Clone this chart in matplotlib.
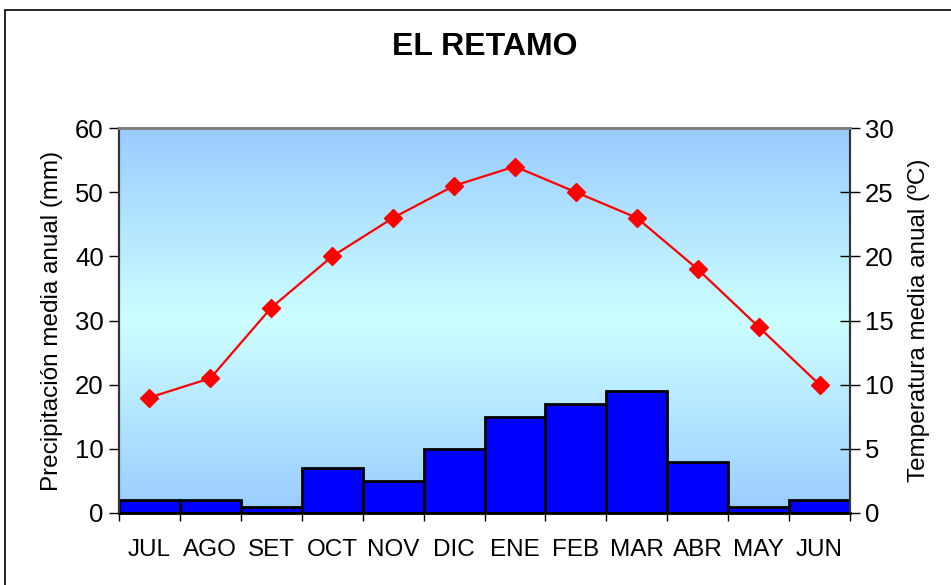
import numpy as np
import matplotlib
matplotlib.use("Agg")
import matplotlib.pyplot as plt
from matplotlib.colors import LinearSegmentedColormap
from matplotlib.patches import Rectangle

months = ["JUL", "AGO", "SET", "OCT", "NOV", "DIC", "ENE", "FEB", "MAR", "ABR", "MAY", "JUN"]
precip = [2, 2, 1, 7, 5, 10, 15, 17, 19, 8, 1, 2]
temp = [9, 10.5, 16, 20, 23, 25.5, 27, 25, 23, 19, 14.5, 10]

plt.rcParams['font.family'] = ['Liberation Sans', 'DejaVu Sans']

fig = plt.figure(figsize=(9.51, 5.85), dpi=100)
fig.patches.append(Rectangle((5/951, -0.01), 1.0, 1 - 10/585 + 0.01, transform=fig.transFigure,
                             fill=False, edgecolor='black', linewidth=1.2))

ax = fig.add_axes([119/951, 1 - 513/585, (850-119)/951, (513-128)/585])
x = np.arange(len(months))

# gradient background
cmap = LinearSegmentedColormap.from_list('bg', ['#99CCFF', '#CCFFFF', '#99CCFF'])
grad = np.linspace(0, 1, 256).reshape(-1, 1)
ax.imshow(grad, aspect='auto', cmap=cmap, extent=[-0.5, 11.5, 0, 60], zorder=0)

ax.bar(x, precip, width=1.0, color='#0000FF', edgecolor='black', linewidth=2, zorder=2)
ax.set_xlim(-0.5, 11.5)
ax.set_ylim(0, 60)
ax.set_yticks(range(0, 61, 10))
ax.set_xticks(np.arange(-0.5, 12, 1))
ax.set_xticklabels([])
ax.set_xticks(x, minor=True)
ax.set_xticklabels(months, minor=True)
ax.tick_params(axis='x', which='minor', length=0, labelsize=17.5, pad=19)
ax.tick_params(axis='x', which='major', direction='out', length=6, width=1)
ax.tick_params(axis='y', direction='out', length=7, width=1, labelsize=18.5, pad=4)
ax.set_ylabel('Precipitación media anual (mm)', fontsize=17.5)
ax.yaxis.set_label_coords(-0.076, 0.5)
ax.spines['top'].set_color('#808080')
ax.spines['top'].set_linewidth(2)
for s in ['left', 'right']:
    ax.spines[s].set_color('#333333')
    ax.spines[s].set_linewidth(1.5)
ax.spines['bottom'].set_color('black')
ax.spines['bottom'].set_linewidth(2)

ax2 = ax.twinx()
ax2.plot(x, temp, color='#FF0000', linewidth=1.6, marker='D', markersize=9, zorder=3)
ax2.set_ylim(0, 30)
ax2.set_yticks(range(0, 31, 5))
ax2.tick_params(axis='y', direction='inout', length=15, width=1, labelsize=18.5, pad=3)
ax2.set_ylabel('Temperatura media anual (ºC)', fontsize=17.5)
ax2.yaxis.set_label_coords(1.079, 0.5)
ax2.spines['top'].set_color('#808080')
ax2.spines['top'].set_linewidth(2)
ax2.spines['right'].set_color('#333333')
ax2.spines['right'].set_linewidth(1.5)
ax2.spines['left'].set_color('#333333')
ax2.spines['left'].set_linewidth(1.5)

fig.text(485/951, 1 - 47/585, 'EL RETAMO', ha='center', va='center', fontsize=23, fontweight='bold')

fig.savefig('out.png', dpi=100)
